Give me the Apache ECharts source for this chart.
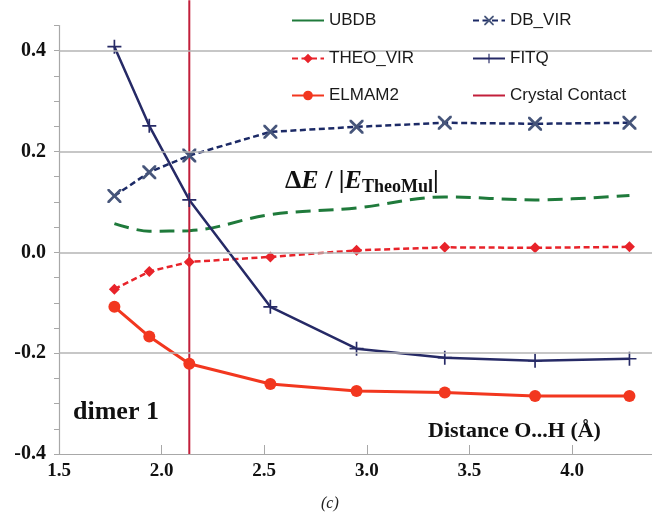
<!DOCTYPE html>
<html>
<head>
<meta charset="utf-8">
<script src="https://cdn.jsdelivr.net/npm/echarts@6/dist/echarts.min.js"></script>
<style>
  html, body { margin: 0; padding: 0; background: #fff; }
  #chart { width: 652px; height: 515px; }
</style>
</head>
<body>
<div id="chart"></div>
<script>
// O...H distance (Å) for each dimer geometry
const distance = [1.77, 1.94, 2.135, 2.53, 2.95, 3.38, 3.82, 4.28];
// Relative error ΔE / |E_TheoMul| for each model
const ubdb    = [0.057, 0.042, 0.043, 0.075, 0.088, 0.110, 0.104, 0.113];
const dbVir   = [0.112, 0.159, 0.192, 0.239, 0.249, 0.257, 0.255, 0.257];
const theoVir = [-0.073, -0.038, -0.019, -0.009, 0.004, 0.010, 0.009, 0.011];
const fitq    = [0.408, 0.251, 0.104, -0.108, -0.191, -0.209, -0.215, -0.211];
const elmam2  = [-0.108, -0.167, -0.221, -0.261, -0.275, -0.278, -0.285, -0.285];
// Crystal contact distance and the vertical extent of its marker line
const contactDistance = 2.135;
const contactSpan = [-0.4, 0.5];
// Horizontal reference lines
const gridValues = [0.4, 0.2, 0.0, -0.2];
// Axis tick labels
const xTicks = [1.5, 2.0, 2.5, 3.0, 3.5, 4.0];
const yTicks = [-0.4, -0.2, 0.0, 0.2, 0.4];

const pairs = (ys) => distance.map((x, i) => [x, ys[i]]);

const serif = 'Liberation Serif';
const sans = 'Liberation Sans';

const crossPath = 'path://M0,0 L1.4,0 L5,3.6 L8.6,0 L10,0 L10,1.4 L6.4,5 L10,8.6 L10,10 L8.6,10 L5,6.4 L1.4,10 L0,10 L0,8.6 L3.6,5 L0,1.4 Z';
const plusPath = 'path://M0,4.4 L10,4.4 L10,5.6 L0,5.6 Z M4.4,0 L5.6,0 L5.6,10 L4.4,10 Z';

const chart = echarts.init(document.getElementById('chart'), null, { renderer: 'canvas' });

const legendText = { fontFamily: sans, fontSize: 17, color: '#1a1a1a' };
// One legend block per entry so the entries sit in a two-column layout
function legendAt(name, left, top, lineOnly, solid) {
  let item = name;
  if (lineOnly || solid) {
    item = { name: name };
    if (lineOnly) item.itemStyle = { opacity: 0 };
    if (solid) item.lineStyle = { type: 'solid' };
  }
  return {
    data: [item], left: left, top: top, itemWidth: 32, itemHeight: 12,
    textStyle: legendText, selectedMode: false, z: 6
  };
}

const option = {
  backgroundColor: '#fff',
  animation: false,
  grid: { left: 59, top: 25.5, width: 615.6, height: 428.5, outerBoundsMode: 'none' },
  xAxis: {
    type: 'value', min: 1.5, max: 4.5, interval: 0.5,
    axisLine: { onZero: false, lineStyle: { color: '#a8a8a8', width: 1.2 } },
    axisTick: { inside: true, length: 9, lineStyle: { color: '#a8a8a8' } },
    splitLine: { show: false },
    axisLabel: {
      margin: 8, fontFamily: serif, fontWeight: 'bold', fontSize: 19, color: '#111',
      formatter: (v) => xTicks.some(t => Math.abs(t - v) < 1e-6) ? v.toFixed(1) : ''
    }
  },
  yAxis: {
    type: 'value', min: -0.4, max: 0.45, interval: 0.05,
    axisLine: { show: true, onZero: false, lineStyle: { color: '#a8a8a8', width: 1.2 } },
    axisTick: { show: true, length: 5, lineStyle: { color: '#a8a8a8' } },
    splitLine: { show: false },
    axisLabel: {
      margin: 13, fontFamily: serif, fontWeight: 'bold', fontSize: 20, color: '#111',
      formatter: (v) => yTicks.some(t => Math.abs(t - v) < 1e-6) ? v.toFixed(1) : ''
    }
  },
  legend: [
    legendAt('UBDB', 286, 7, true, true),
    legendAt('DB_VIR', 467, 7),
    legendAt('THEO_VIR', 286, 45),
    legendAt('FITQ', 467, 45),
    legendAt('ELMAM2', 286, 82),
    legendAt('Crystal Contact', 467, 82, true)
  ],
  graphic: [
    { type: 'rect', shape: { x: 286, y: 0, width: 366, height: 112 }, style: { fill: '#fff' }, z: 3, silent: true },
    {
      type: 'text', left: 73, top: 399, z: 5,
      style: { text: 'dimer 1', font: 'bold 26px "Liberation Serif"', fill: '#111' }
    },
    {
      type: 'text', left: 428, top: 420, z: 5,
      style: { text: 'Distance O...H (Å)', font: 'bold 22px "Liberation Serif"', fill: '#111' }
    },
    {
      type: 'text', left: 285, top: 166, z: 5,
      style: {
        text: '{a|Δ}{b|E}{a| / |}{b|E}{s|TheoMul}{a||}',
        rich: {
          a: { fontFamily: serif, fontWeight: 'bold', fontSize: 26, fill: '#111', lineHeight: 30, verticalAlign: 'middle' },
          b: { fontFamily: serif, fontWeight: 'bold', fontStyle: 'italic', fontSize: 26, fill: '#111', lineHeight: 30, verticalAlign: 'middle' },
          s: { fontFamily: serif, fontWeight: 'bold', fontSize: 18, fill: '#111', lineHeight: 30, verticalAlign: 'middle', padding: [12, 0, 0, 0] }
        }
      }
    },
    {
      type: 'text', left: 321, top: 496, z: 5,
      style: { text: '(c)', font: 'italic 16px "Liberation Serif"', fill: '#222' }
    }
  ],
  series: [
    {
      name: 'gridlines', type: 'line', data: [], z: 1, silent: true,
      markLine: {
        silent: true, symbol: 'none', label: { show: false },
        lineStyle: { color: '#b4b4b4', type: 'solid', width: 1.5 },
        data: gridValues.map(v => ({ yAxis: v }))
      }
    },
    {
      name: 'UBDB', type: 'line', data: pairs(ubdb), symbol: 'none', smooth: 0.35,
      lineStyle: { color: '#1f7a3b', width: 3, type: [15, 8] },
      itemStyle: { color: '#1f7a3b' }
    },
    {
      name: 'DB_VIR', type: 'line', data: pairs(dbVir), symbol: crossPath, symbolSize: 14,
      lineStyle: { color: '#1c2a66', width: 2.5, type: [6, 3.5] },
      itemStyle: { color: '#46557a' }
    },
    {
      name: 'THEO_VIR', type: 'line', data: pairs(theoVir), symbol: 'diamond', symbolSize: 11,
      lineStyle: { color: '#e8232a', width: 2.5, type: [6, 3.5] },
      itemStyle: { color: '#e8232a' }
    },
    {
      name: 'FITQ', type: 'line', data: pairs(fitq), symbol: plusPath, symbolSize: 14,
      lineStyle: { color: '#262a66', width: 2.5 },
      itemStyle: { color: '#262a66' }
    },
    {
      name: 'ELMAM2', type: 'line', data: pairs(elmam2), symbol: 'circle', symbolSize: 12,
      lineStyle: { color: '#f2371f', width: 3 },
      itemStyle: { color: '#f2371f' }
    },
    {
      name: 'Crystal Contact', type: 'line', clip: false, symbol: 'none',
      data: contactSpan.map(y => [contactDistance, y]),
      lineStyle: { color: '#c21f3a', width: 2 },
      itemStyle: { color: '#c21f3a' }
    }
  ]
};

chart.setOption(option);
</script>
</body>
</html>
